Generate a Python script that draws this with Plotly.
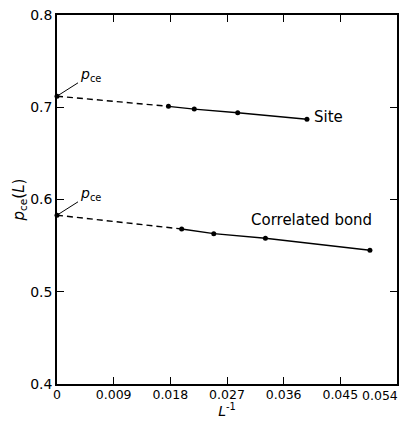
import plotly.graph_objects as go

# Data
site_x = [0.0, 0.0177, 0.0218, 0.0287, 0.0397]
site_y = [0.712, 0.701, 0.698, 0.694, 0.687]
bond_x = [0.0, 0.0198, 0.0249, 0.0331, 0.0497]
bond_y = [0.583, 0.568, 0.563, 0.558, 0.545]

x_tickvals = [0, 0.009, 0.018, 0.027, 0.036, 0.045, 0.054]
x_ticktext = ["0", "0.009", "0.018", "0.027", "0.036", "0.045", "0.054"]
y_tickvals = [0.4, 0.5, 0.6, 0.7, 0.8]
y_ticktext = ["0.4", "0.5", "0.6", "0.7", "0.8"]

FONT = "DejaVu Sans, sans-serif"
LW = 1.4
DASH = "6px,4px"
XTICK_SIZE = 12.5

fig = go.Figure()
for xs, ys in [(site_x, site_y), (bond_x, bond_y)]:
    fig.add_trace(go.Scatter(x=xs[:2], y=ys[:2], mode="lines",
                             line=dict(color="black", width=LW, dash=DASH),
                             showlegend=False, cliponaxis=False))
    fig.add_trace(go.Scatter(x=xs[1:], y=ys[1:], mode="lines",
                             line=dict(color="black", width=LW),
                             showlegend=False, cliponaxis=False))
    fig.add_trace(go.Scatter(x=xs, y=ys, mode="markers",
                             marker=dict(color="black", size=5),
                             showlegend=False, cliponaxis=False))

pce = "<i>p</i><sub>ce</sub>"
for ys in (site_y, bond_y):
    fig.add_annotation(x=0, y=ys[0], text=pce, showarrow=True, arrowhead=0,
                       arrowwidth=1, arrowcolor="black", ax=33, ay=-21,
                       xanchor="center", yanchor="middle", standoff=0,
                       font=dict(family=FONT, size=14, color="black"))

fig.add_annotation(x=site_x[-1], y=site_y[-1], text="Site", showarrow=False,
                   xanchor="left", yanchor="middle", xshift=5, yshift=2,
                   font=dict(family=FONT, size=15, color="black"))
fig.add_annotation(x=bond_x[-1], y=bond_y[-1], text="Correlated bond", showarrow=False,
                   xanchor="right", yanchor="middle", xshift=4, yshift=30,
                   font=dict(family=FONT, size=15, color="black"))

# last x tick label sits at the right edge, so it is right-aligned to stay inside
fig.add_annotation(x=x_tickvals[-1], y=0, yref="paper", text=x_ticktext[-1],
                   showarrow=False, xanchor="right", yanchor="top",
                   xshift=3, yshift=-2,
                   font=dict(family=FONT, size=XTICK_SIZE, color="black"))

axis_common = dict(showline=True, linecolor="black", linewidth=1.5, mirror="allticks",
                   ticks="inside", ticklen=7, tickwidth=1, tickcolor="black",
                   showgrid=False, zeroline=False, automargin=False,
                   ticklabeloverflow="allow")

fig.update_xaxes(range=[0, 0.054], tickvals=x_tickvals,
                 ticktext=x_ticktext[:-1] + [""],
                 ticklabelstandoff=-2,
                 tickfont=dict(family=FONT, size=XTICK_SIZE, color="black"),
                 title=dict(text="<i>L</i><sup>-1</sup>", standoff=6,
                            font=dict(family=FONT, size=14, color="black")),
                 **axis_common)
fig.update_yaxes(range=[0.4, 0.8], tickvals=y_tickvals, ticktext=y_ticktext,
                 tickfont=dict(family=FONT, size=14, color="black"),
                 title=dict(text="<i>p</i><sub>ce</sub>(<i>L</i>)", standoff=2,
                            font=dict(family=FONT, size=15, color="black")),
                 **axis_common)

# the page body adds an 8px offset; size the figure so that it fits the
# window and the plot area lands at the reference position
fig.update_layout(width=392, height=411, margin=dict(l=49, r=3, t=7, b=35),
                  paper_bgcolor="white", plot_bgcolor="white",
                  font=dict(family=FONT, color="black"))

fig.write_html("out.html")
